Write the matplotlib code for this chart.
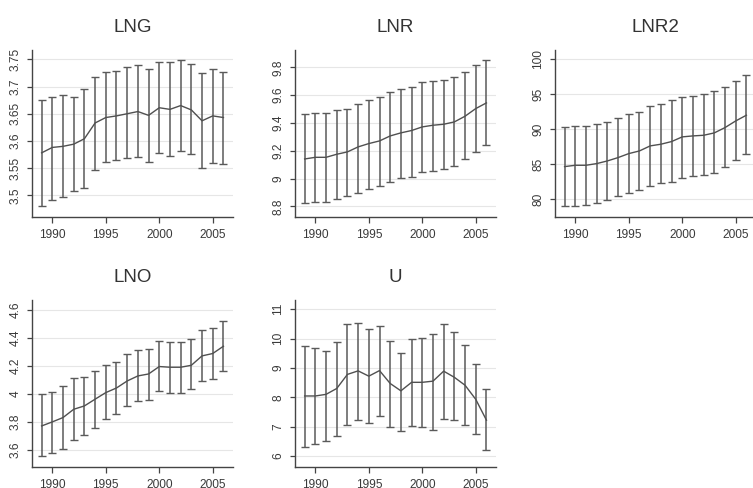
import matplotlib.pyplot as plt
import numpy as np
from matplotlib.ticker import FuncFormatter

plt.rcParams['font.family'] = ['Liberation Sans', 'DejaVu Sans']

years = np.arange(1989, 2007)

# means, upper and lower bounds
lng_mean = [3.578, 3.588, 3.590, 3.594, 3.604, 3.633, 3.643, 3.646, 3.650,
            3.654, 3.647, 3.661, 3.658, 3.665, 3.657, 3.637, 3.646, 3.643]
lng_hi = [3.676, 3.681, 3.684, 3.680, 3.695, 3.717, 3.726, 3.728, 3.736,
          3.740, 3.733, 3.746, 3.746, 3.749, 3.741, 3.724, 3.733, 3.727]
lng_lo = [3.480, 3.491, 3.497, 3.507, 3.513, 3.547, 3.562, 3.564, 3.568,
          3.570, 3.562, 3.577, 3.572, 3.582, 3.575, 3.551, 3.560, 3.557]

lnr_mean = [9.141, 9.153, 9.153, 9.175, 9.192, 9.228, 9.252, 9.271, 9.307,
            9.329, 9.346, 9.372, 9.384, 9.391, 9.408, 9.449, 9.504, 9.545]
lnr_hi = [9.468, 9.475, 9.475, 9.492, 9.504, 9.540, 9.564, 9.588, 9.625,
          9.646, 9.661, 9.697, 9.704, 9.709, 9.733, 9.769, 9.819, 9.853]
lnr_lo = [8.824, 8.829, 8.831, 8.850, 8.872, 8.899, 8.927, 8.949, 8.975,
          9.004, 9.012, 9.048, 9.055, 9.069, 9.093, 9.144, 9.192, 9.242]

lnr2_mean = [84.68, 84.87, 84.87, 85.11, 85.49, 85.97, 86.54, 86.92, 87.64,
             87.88, 88.26, 88.93, 89.07, 89.16, 89.50, 90.26, 91.21, 92.03]
lnr2_hi = [90.36, 90.50, 90.50, 90.74, 91.03, 91.60, 92.17, 92.55, 93.32,
           93.70, 94.18, 94.65, 94.84, 95.04, 95.47, 96.09, 96.95, 97.80]
lnr2_lo = [79.00, 79.00, 79.14, 79.47, 79.86, 80.48, 80.91, 81.29, 81.91,
           82.29, 82.43, 83.10, 83.29, 83.44, 83.82, 84.68, 85.59, 86.54]

lno_mean = [3.769, 3.798, 3.829, 3.888, 3.912, 3.960, 4.007, 4.040, 4.090,
            4.126, 4.140, 4.193, 4.188, 4.188, 4.202, 4.269, 4.286, 4.338]
lno_hi = [3.995, 4.012, 4.055, 4.112, 4.119, 4.160, 4.202, 4.226, 4.279,
          4.314, 4.321, 4.376, 4.369, 4.369, 4.393, 4.455, 4.469, 4.519]
lno_lo = [3.552, 3.574, 3.607, 3.671, 3.707, 3.755, 3.821, 3.857, 3.912,
          3.948, 3.955, 4.017, 4.007, 4.005, 4.036, 4.088, 4.107, 4.160]

u_mean = [8.045, 8.045, 8.10, 8.30, 8.78, 8.90, 8.72, 8.91, 8.47,
          8.22, 8.51, 8.51, 8.55, 8.89, 8.68, 8.41, 7.93, 7.22]
u_hi = [9.75, 9.68, 9.58, 9.89, 10.50, 10.52, 10.32, 10.42, 9.93,
        9.52, 9.97, 10.02, 10.15, 10.49, 10.23, 9.77, 9.15, 8.27]
u_lo = [6.32, 6.42, 6.52, 6.68, 7.07, 7.24, 7.14, 7.36, 6.99,
        6.85, 7.01, 6.99, 6.89, 7.25, 7.23, 7.05, 6.75, 6.19]

panels = [
    ('LNG', lng_mean, lng_hi, lng_lo, [3.5, 3.55, 3.6, 3.65, 3.7, 3.75], (3.46, 3.767)),
    ('LNR', lnr_mean, lnr_hi, lnr_lo, [8.8, 9, 9.2, 9.4, 9.6, 9.8], (8.723, 9.925)),
    ('LNR2', lnr2_mean, lnr2_hi, lnr2_lo, [80, 85, 90, 95, 100], (77.47, 101.34)),
    ('LNO', lno_mean, lno_hi, lno_lo, [3.6, 3.8, 4, 4.2, 4.4, 4.6], (3.476, 4.667)),
    ('U', u_mean, u_hi, u_lo, [6, 7, 8, 9, 10, 11], (5.625, 11.31)),
]

# axes boxes in figure fractions
lefts = [0.0425, 0.3918, 0.737]
bottoms = [0.5553, 0.043]
w, h = 0.267, 0.342

fig = plt.figure(figsize=(7.53, 4.88), dpi=100)

for i, (name, mean, hi, lo, yt, ylim) in enumerate(panels):
    ax = fig.add_axes([lefts[i % 3], bottoms[i // 3], w, h])
    mean = np.array(mean)
    err = [mean - np.array(lo), np.array(hi) - mean]
    ax.errorbar(years, mean, yerr=err, fmt='none', ecolor='#5a5a5a',
                elinewidth=1.1, capsize=2.6, capthick=1.0)
    ax.plot(years, mean, color='#505050', lw=1.0)

    ax.set_xlim(1988.1, 2006.9)
    ax.set_ylim(*ylim)
    ax.set_xticks([1990, 1995, 2000, 2005])
    ax.set_yticks(yt)
    ax.yaxis.set_major_formatter(FuncFormatter(lambda v, p: '%g' % v))
    ax.grid(axis='y', color='#e6e6e6', lw=0.8)
    ax.set_axisbelow(True)

    for s in ['top', 'right']:
        ax.spines[s].set_visible(False)
    for s in ['left', 'bottom']:
        ax.spines[s].set_color('#444444')
        ax.spines[s].set_linewidth(1.0)

    ax.tick_params(axis='both', colors='#444444', labelcolor='#3a3a3a',
                   labelsize=8.6, width=0.9)
    ax.tick_params(axis='x', length=4.6, pad=4.3)
    ax.tick_params(axis='y', length=3.6, pad=4.0)
    for lab in ax.get_yticklabels():
        lab.set_rotation(90)
        lab.set_va('center')

    ax.set_title(name, fontsize=13.5, color='#333333', pad=13)

fig.savefig('out.png', dpi=100, facecolor='white')
